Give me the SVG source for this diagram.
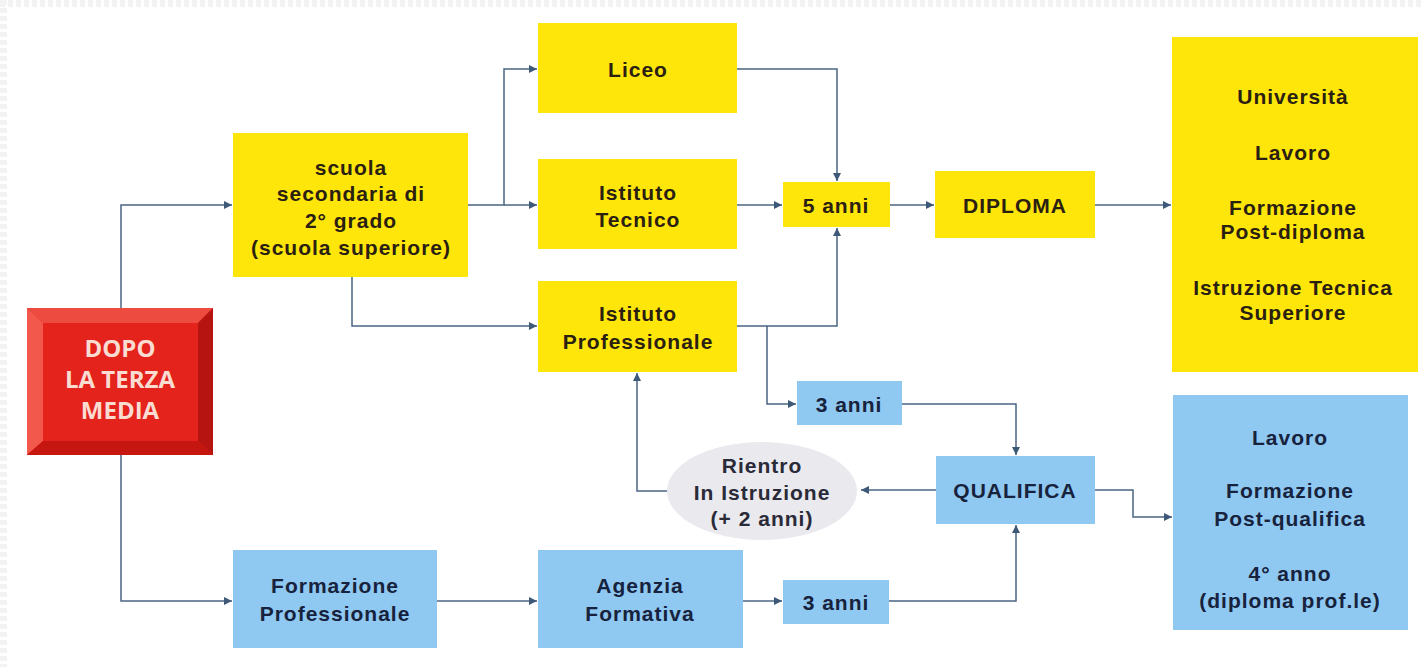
<svg xmlns="http://www.w3.org/2000/svg" width="1422" height="667" viewBox="0 0 1422 667">
<style>
.y{fill:#ffe60a}
.b{fill:#8fc8f1}
.t{font-family:"Liberation Sans",Arial,sans-serif;font-weight:bold;font-size:21px;letter-spacing:1px;text-anchor:middle;dominant-baseline:central}
.ty{fill:#2a2012}
.tb{fill:#17223d}
.tr{font-family:"Open Sans","Liberation Sans",sans-serif;font-weight:bold;font-size:24px;text-anchor:middle;dominant-baseline:central;fill:#fbdcd2}
.c{fill:none;stroke:#4a6584;stroke-width:1.5}
</style>
<defs>
<marker id="ah" viewBox="0 0 10 10" refX="10" refY="5" markerWidth="10" markerHeight="8" markerUnits="userSpaceOnUse" orient="auto">
<path d="M0,0 L10,5 L0,10 z" fill="#3e5878"/>
</marker>
</defs>
<rect width="1422" height="667" fill="#ffffff"/>
<g id="frame">
<line x1="0" y1="3.5" x2="1422" y2="3.5" stroke="#f3f3f3" stroke-width="7" stroke-dasharray="5 3"/>
<line x1="3.5" y1="0" x2="3.5" y2="667" stroke="#f3f3f3" stroke-width="7" stroke-dasharray="5 3"/>
</g>
<g id="connectors">
<path class="c" d="M121,308 V205 H232" marker-end="url(#ah)"/>
<path class="c" d="M121,455 V601 H232" marker-end="url(#ah)"/>
<path class="c" d="M468,205 H504 V69 H537" marker-end="url(#ah)"/>
<path class="c" d="M504,205 H537" marker-end="url(#ah)"/>
<path class="c" d="M352,277 V326 H537" marker-end="url(#ah)"/>
<path class="c" d="M737,69 H837 V181" marker-end="url(#ah)"/>
<path class="c" d="M737,205 H782" marker-end="url(#ah)"/>
<path class="c" d="M737,326 H837 V228" marker-end="url(#ah)"/>
<path class="c" d="M767,326 V404 H796" marker-end="url(#ah)"/>
<path class="c" d="M890,205 H934" marker-end="url(#ah)"/>
<path class="c" d="M1095,205 H1171" marker-end="url(#ah)"/>
<path class="c" d="M902,404 H1016 V455" marker-end="url(#ah)"/>
<path class="c" d="M936,490 H861" marker-end="url(#ah)"/>
<path class="c" d="M668,491 H637 V373" marker-end="url(#ah)"/>
<path class="c" d="M1095,490 H1133 V517 H1172" marker-end="url(#ah)"/>
<path class="c" d="M437,601 H537" marker-end="url(#ah)"/>
<path class="c" d="M743,601 H782" marker-end="url(#ah)"/>
<path class="c" d="M889,601 H1016 V525" marker-end="url(#ah)"/>
</g>
<g id="dopo">
<rect x="27" y="308" width="186" height="147" fill="#e3201b"/>
<polygon points="27,308 213,308 198,323 43,323" fill="#ee4b40"/>
<polygon points="27,308 43,323 43,441 27,455" fill="#f2594c"/>
<polygon points="213,308 213,455 198,441 198,323" fill="#b51410"/>
<polygon points="27,455 213,455 198,441 43,441" fill="#c5170f"/>
<rect x="43" y="323" width="155" height="118" fill="#e4231c"/>
<text class="tr" x="120" y="347">DOPO</text>
<text class="tr" x="120" y="378">LA TERZA</text>
<text class="tr" x="120" y="409">MEDIA</text>
</g>
<g id="scuola">
<rect class="y" x="233" y="133" width="235" height="144"/>
<text class="t ty" x="351" y="167">scuola</text>
<text class="t ty" x="351" y="193">secondaria di</text>
<text class="t ty" x="351" y="220">2° grado</text>
<text class="t ty" x="351" y="247">(scuola superiore)</text>
</g>
<g id="liceo">
<rect class="y" x="538" y="23" width="199" height="90"/>
<text class="t ty" x="638" y="69">Liceo</text>
</g>
<g id="tecnico">
<rect class="y" x="538" y="159" width="199" height="90"/>
<text class="t ty" x="638" y="192">Istituto</text>
<text class="t ty" x="638" y="219">Tecnico</text>
</g>
<g id="professionale">
<rect class="y" x="538" y="281" width="199" height="91"/>
<text class="t ty" x="638" y="313">Istituto</text>
<text class="t ty" x="638" y="341">Professionale</text>
</g>
<g id="cinque-anni">
<rect class="y" x="783" y="182" width="107" height="45"/>
<text class="t ty" x="836" y="205">5 anni</text>
</g>
<g id="diploma">
<rect class="y" x="935" y="171" width="160" height="67"/>
<text class="t ty" x="1015" y="205">DIPLOMA</text>
</g>
<g id="sbocchi-diploma">
<rect class="y" x="1172" y="37" width="246" height="335"/>
<text class="t ty" x="1293" y="96">Università</text>
<text class="t ty" x="1293" y="152">Lavoro</text>
<text class="t ty" x="1293" y="207">Formazione</text>
<text class="t ty" x="1293" y="231">Post-diploma</text>
<text class="t ty" x="1293" y="287">Istruzione Tecnica</text>
<text class="t ty" x="1293" y="312">Superiore</text>
</g>
<g id="tre-anni-1">
<rect class="b" x="797" y="381" width="105" height="44"/>
<text class="t tb" x="849" y="404">3 anni</text>
</g>
<g id="rientro">
<ellipse cx="762" cy="491" rx="95" ry="49" fill="#e9e9ee"/>
<text class="t" fill="#2a2a38" x="762" y="465">Rientro</text>
<text class="t" fill="#2a2a38" x="762" y="492">In Istruzione</text>
<text class="t" fill="#2a2a38" x="762" y="518">(+ 2 anni)</text>
</g>
<g id="qualifica">
<rect class="b" x="936" y="456" width="159" height="68"/>
<text class="t tb" x="1015" y="490">QUALIFICA</text>
</g>
<g id="sbocchi-qualifica">
<rect class="b" x="1173" y="395" width="235" height="235"/>
<text class="t tb" x="1290" y="437">Lavoro</text>
<text class="t tb" x="1290" y="490">Formazione</text>
<text class="t tb" x="1290" y="518">Post-qualifica</text>
<text class="t tb" x="1290" y="573">4° anno</text>
<text class="t tb" x="1290" y="600">(diploma prof.le)</text>
</g>
<g id="formazione-professionale">
<rect class="b" x="233" y="550" width="204" height="98"/>
<text class="t tb" x="335" y="585">Formazione</text>
<text class="t tb" x="335" y="613">Professionale</text>
</g>
<g id="agenzia">
<rect class="b" x="538" y="550" width="205" height="98"/>
<text class="t tb" x="640" y="585">Agenzia</text>
<text class="t tb" x="640" y="613">Formativa</text>
</g>
<g id="tre-anni-2">
<rect class="b" x="783" y="580" width="106" height="44"/>
<text class="t tb" x="836" y="602">3 anni</text>
</g>
</svg>
